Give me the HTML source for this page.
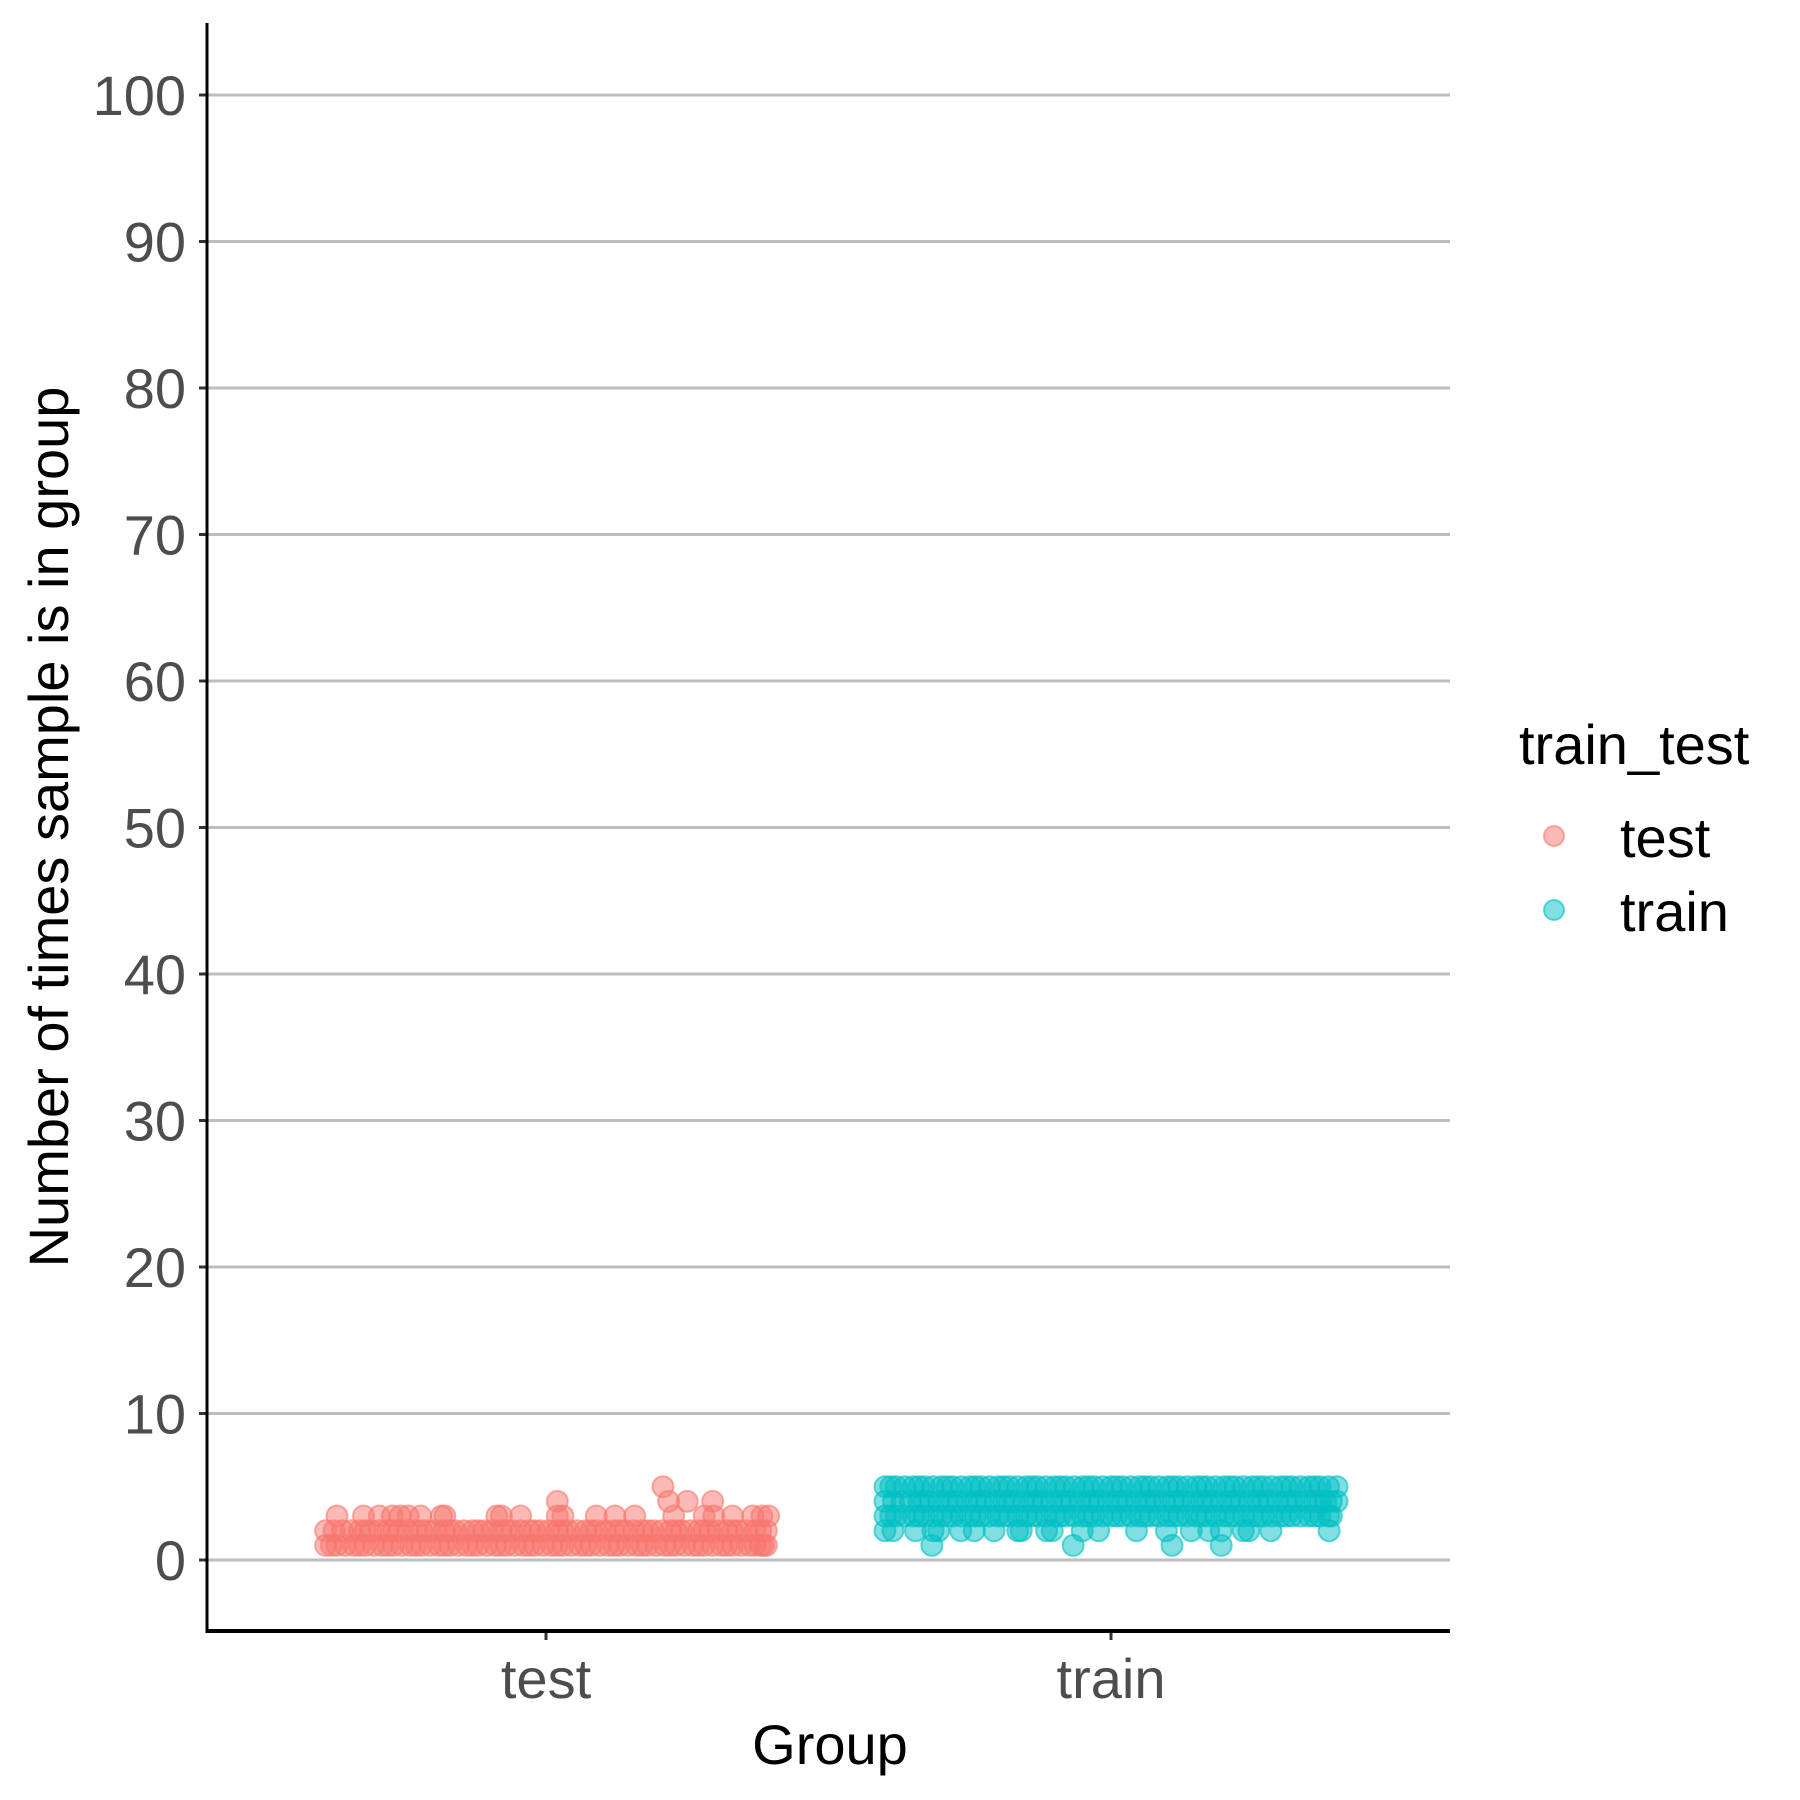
<!DOCTYPE html>
<html><head><meta charset="utf-8"><style>
html,body{margin:0;padding:0;background:#fff}
svg{display:block;font-family:"Liberation Sans",Arial,sans-serif}
</style></head><body>
<svg id="chart" width="1800" height="1800" viewBox="0 0 1800 1800" xmlns="http://www.w3.org/2000/svg">
<g id="grid"></g>
<g id="points"></g>
<g id="axes"></g>
<text x="830" y="1764" font-size="56" text-anchor="middle" fill="#000">Group</text>
<text transform="translate(68,827) rotate(-90)" font-size="56" text-anchor="middle" fill="#000">Number of times sample is in group</text>
<g>
<text x="1519" y="764" font-size="56" fill="#000">train_test</text>
<g>
<circle cx="1554" cy="836" r="10" fill="#F8766D" fill-opacity="0.5" stroke="#F8766D" stroke-opacity="0.6" stroke-width="2"/>
<text x="1620" y="857" font-size="56" fill="#000">test</text></g>
<g>
<circle cx="1554" cy="910" r="10" fill="#00BFC4" fill-opacity="0.5" stroke="#00BFC4" stroke-opacity="0.6" stroke-width="2"/>
<text x="1620" y="931" font-size="56" fill="#000">train</text></g>
</g>
</svg>
<script>
const categories = ["test","train"];
const yTicks = [0,10,20,30,40,50,60,70,80,90,100];
const testRows = [
 {y:1, x:[0.61,0.63,0.66,0.68,0.71,0.73,0.76,0.78,0.81,0.83,0.86,0.88,0.91,0.93,0.96,0.98,1.01,1.03,1.06,1.08,1.11,1.13,1.16,1.18,1.21,1.23,1.26,1.28,1.31,1.33,1.36,1.38,1.39]},
 {y:1, x:[0.62,0.645,0.67,0.695,0.72,0.745,0.77,0.795,0.82,0.845,0.87,0.895,0.92,0.945,0.97,0.995,1.02,1.045,1.07,1.095,1.12,1.145,1.17,1.195,1.22,1.245,1.27,1.295,1.32,1.345,1.37,1.385]},
 {y:2, x:[0.61,0.64,0.67,0.69,0.72,0.74,0.77,0.79,0.82,0.84,0.87,0.89,0.92,0.94,0.97,0.99,1.02,1.04,1.07,1.09,1.12,1.14,1.17,1.19,1.22,1.24,1.27,1.29,1.32,1.34,1.37,1.39]},
 {y:2, x:[0.625,0.655,0.68,0.705,0.73,0.755,0.78,0.805,0.83,0.855,0.88,0.905,0.93,0.955,0.98,1.005,1.03,1.055,1.08,1.105,1.13,1.155,1.18,1.205,1.23,1.255,1.28,1.305,1.33,1.355,1.38]},
 {y:3, x:[0.63,0.677,0.705,0.728,0.742,0.756,0.778,0.815,0.821,0.913,0.921,0.955,1.02,1.03,1.089,1.122,1.157,1.226,1.28,1.297,1.33,1.366,1.382,1.394]},
 {y:4, x:[1.02,1.217,1.25,1.295]},
 {y:5, x:[1.207]}
];
const trainRows = [
 {y:1, x:[1.683,1.933,2.108,2.195]},
 {y:2, x:[1.6,1.614,1.654,1.685,1.695,1.734,1.758,1.793,1.835,1.841,1.886,1.896,1.949,1.978,2.045,2.098,2.142,2.173,2.195,2.234,2.244,2.283,2.386]},
 {y:3, x:[1.60,1.62,1.65,1.67,1.70,1.72,1.75,1.77,1.80,1.82,1.85,1.87,1.90,1.92,1.95,1.97,2.00,2.02,2.05,2.07,2.10,2.12,2.15,2.17,2.20,2.22,2.25,2.27,2.30,2.32,2.35,2.37,2.39]},
 {y:3, x:[1.61,1.635,1.66,1.685,1.71,1.735,1.76,1.785,1.81,1.835,1.86,1.885,1.91,1.935,1.96,1.985,2.01,2.035,2.06,2.085,2.11,2.135,2.16,2.185,2.21,2.235,2.26,2.285,2.31,2.335,2.36,2.385]},
 {y:4, x:[1.60,1.63,1.66,1.68,1.71,1.73,1.76,1.78,1.81,1.83,1.86,1.88,1.91,1.93,1.96,1.98,2.01,2.03,2.06,2.08,2.11,2.13,2.16,2.18,2.21,2.23,2.26,2.28,2.31,2.33,2.36,2.38,2.40]},
 {y:4, x:[1.615,1.645,1.67,1.695,1.72,1.745,1.77,1.795,1.82,1.845,1.87,1.895,1.92,1.945,1.97,1.995,2.02,2.045,2.07,2.095,2.12,2.145,2.17,2.195,2.22,2.245,2.27,2.295,2.32,2.345,2.37,2.39]},
 {y:5, x:[1.60,1.62,1.65,1.67,1.70,1.72,1.75,1.77,1.80,1.82,1.85,1.87,1.90,1.92,1.95,1.97,2.00,2.02,2.05,2.07,2.10,2.12,2.15,2.17,2.20,2.22,2.25,2.27,2.30,2.32,2.35,2.37,2.40]},
 {y:5, x:[1.61,1.635,1.66,1.685,1.71,1.735,1.76,1.785,1.81,1.835,1.86,1.885,1.91,1.935,1.96,1.985,2.01,2.035,2.06,2.085,2.11,2.135,2.16,2.185,2.21,2.235,2.26,2.285,2.31,2.335,2.36,2.385]}
];
const NS="http://www.w3.org/2000/svg";
const X0=207, X1=1450, Y0=23, Y1=1631;
function xScale(c){ return 546 + (c-1)*565; }
function yScale(v){ return 1560 - v*14.65; }
function mk(tag, attrs, parent){ const e=document.createElementNS(NS,tag); for(const k in attrs) e.setAttribute(k,attrs[k]); parent.appendChild(e); return e; }
const grid=document.getElementById('grid'), pts=document.getElementById('points'), axes=document.getElementById('axes');
yTicks.forEach(t=>{
  const y=yScale(t);
  const g=mk('line',{x1:X0,x2:X1,y1:y,y2:y,stroke:'#bebebe','stroke-width':3},grid);
  
  
  const tk=mk('line',{x1:X0-8,x2:X0,y1:y,y2:y,stroke:'#333','stroke-width':3},axes);
  
  
  const lb=mk('text',{x:186,y:y+20,'font-size':56,'text-anchor':'end',fill:'#4d4d4d'},axes);
  lb.textContent=t;
  
  
});
categories.forEach((c,i)=>{
  const x=xScale(i+1);
  const tk=mk('line',{x1:x,x2:x,y1:Y1,y2:Y1+9,stroke:'#333','stroke-width':3},axes);
  
  
  const lb=mk('text',{x:x,y:1698,'font-size':56,'text-anchor':'middle',fill:'#4d4d4d'},axes);
  lb.textContent=c;
  
  
});
const ya=mk('line',{x1:X0,x2:X0,y1:Y0,y2:Y1+1.5,stroke:'#000','stroke-width':3},axes);


const xa=mk('line',{x1:X0-1.5,x2:X1,y1:Y1,y2:Y1,stroke:'#000','stroke-width':4},axes);


function drawRows(rows,color,name){
  rows.forEach(r=>r.x.forEach(xv=>{
    const c=mk('circle',{cx:xScale(xv),cy:yScale(r.y),r:10.5,fill:color,'fill-opacity':0.5,stroke:color,'stroke-opacity':0.6,'stroke-width':2},pts);
    
    
  }));
}
drawRows(testRows,'#F8766D','test');
drawRows(trainRows,'#00BFC4','train');
</script>
</body></html>
